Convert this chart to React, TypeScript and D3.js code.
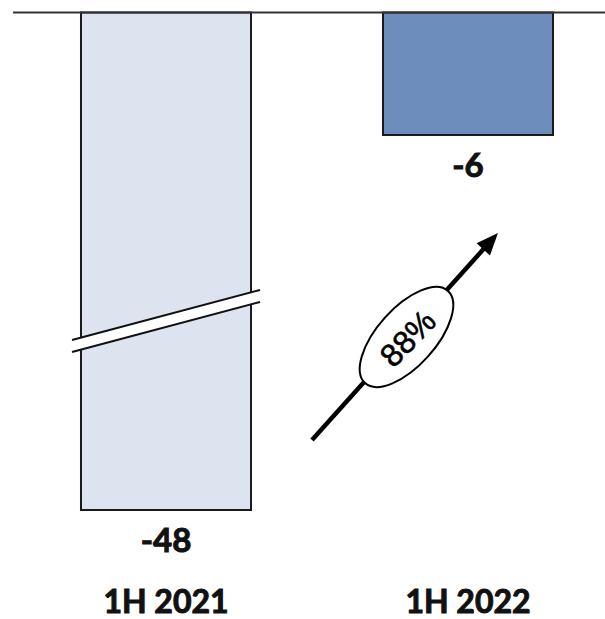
import React from 'react';
import * as d3 from 'd3';

const categories = ['1H 2021', '1H 2022'];
const values = [-48, -6];
const valueLabels = ['-48', '-6'];
const changeLabel = '88%';

const W = 605;
const H = 619;
const baseY = 12.5;

export default function App() {
  const x = d3
    .scaleBand<string>()
    .domain(categories)
    .range([15, 619])
    .paddingInner(0.437)
    .paddingOuter(0.2185);

  // broken axis: the first bar is cut, so the scale is piecewise
  const y = d3.scaleLinear().domain([0, -6, -48]).range([baseY, 135, 510]);

  const bw = x.bandwidth();
  const fills = ['#dde4ef', '#6d8ebd'];

  // break marks on the long bar
  const b0 = x(categories[0])!;
  const top0 = y(0);
  const bot0 = y(values[0]);
  const breakY = top0 + (bot0 - top0) * 0.62;
  const bx1 = b0 - 9;
  const bx2 = b0 + bw + 9;
  const slope = -50 / (bx2 - bx1);
  const gap = 12;
  const yAt = (xx: number) => breakY + slope * (xx - (bx1 + bx2) / 2);
  const breakPoly = [
    [bx1, yAt(bx1) - gap / 2],
    [bx2, yAt(bx2) - gap / 2],
    [bx2, yAt(bx2) + gap / 2],
    [bx1, yAt(bx1) + gap / 2],
  ];

  // arrow between bars
  const c1 = x(categories[1])!;
  const ax1 = c1 - 71;
  const ay1 = y(values[1]) + 305;
  const ax2 = c1 + 115;
  const ay2 = y(values[1]) + 98;
  const ang = (Math.atan2(ay2 - ay1, ax2 - ax1) * 180) / Math.PI;
  const cx = 406.5;
  const cy = 337;
  const headLen = 22;
  const lineEnd = [
    ax2 - headLen * 0.8 * Math.cos((ang * Math.PI) / 180),
    ay2 - headLen * 0.8 * Math.sin((ang * Math.PI) / 180),
  ];

  const labelFont = "Lato, 'Open Sans', sans-serif";

  return (
    <svg
      width={W}
      height={H}
      style={{position: 'absolute', left: 0, top: 0, background: '#fff'}}
    >
      {categories.map((c, i) => (
        <rect
          key={c}
          x={x(c)}
          y={y(0)}
          width={bw}
          height={y(values[i]) - y(0)}
          fill={fills[i]}
          stroke="#1a1a1a"
          strokeWidth={2}
        />
      ))}
      <line x1={13} x2={W} y1={baseY} y2={baseY} stroke="#333" strokeWidth={2} />

      <polygon points={breakPoly.map((p) => p.join(',')).join(' ')} fill="#fff" />
      <line
        x1={bx1}
        y1={yAt(bx1) - gap / 2}
        x2={bx2}
        y2={yAt(bx2) - gap / 2}
        stroke="#111"
        strokeWidth={2}
      />
      <line
        x1={bx1}
        y1={yAt(bx1) + gap / 2}
        x2={bx2}
        y2={yAt(bx2) + gap / 2}
        stroke="#111"
        strokeWidth={2}
      />

      {categories.map((c, i) => (
        <text
          key={'v' + c}
          x={x(c)! + bw / 2}
          y={y(values[i]) + 42}
          textAnchor="middle"
          fontFamily={labelFont}
          fontWeight="bold"
          fontSize={33}
          fill="#111"
          stroke="#111"
          strokeWidth={1}
        >
          {valueLabels[i]}
        </text>
      ))}

      {categories.map((c) => (
        <text
          key={'c' + c}
          x={x(c)! + bw / 2}
          y={613}
          textAnchor="middle"
          fontFamily={labelFont}
          fontWeight="bold"
          fontSize={32}
          fill="#111"
          stroke="#111"
          strokeWidth={1}
        >
          {c}
        </text>
      ))}

      <line
        x1={ax1}
        y1={ay1}
        x2={lineEnd[0]}
        y2={lineEnd[1]}
        stroke="#000"
        strokeWidth={4.5}
      />
      <g transform={`translate(${ax2},${ay2}) rotate(${ang})`}>
        <path d={`M0,0 L${-headLen},${-9} L${-headLen},${9} Z`} fill="#000" />
      </g>
      <g transform={`translate(${cx},${cy}) rotate(${ang})`}>
        <ellipse rx={62} ry={29} fill="#fff" stroke="#000" strokeWidth={2} />
      </g>
      <text
        transform={`translate(${cx + 1},${cy + 1}) rotate(-46)`}
        textAnchor="middle"
        dy="0.36em"
        fontFamily="'Liberation Sans', Arial, sans-serif"
        fontSize={32}
        fill="#000"
        stroke="#000"
        strokeWidth={0.6}
      >
        {changeLabel}
      </text>
    </svg>
  );
}
